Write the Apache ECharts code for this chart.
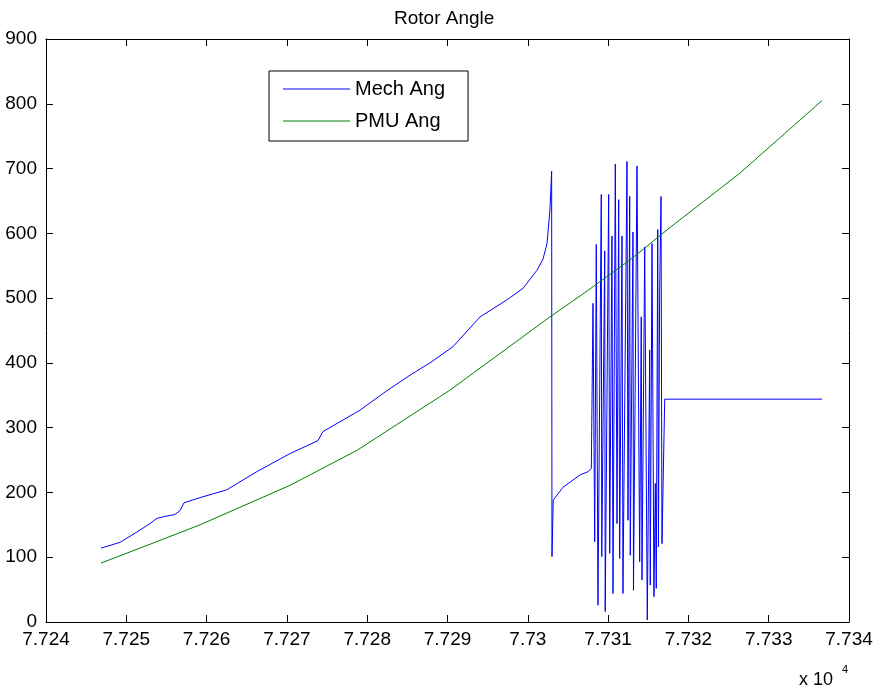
<!DOCTYPE html>
<html>
<head>
<meta charset="utf-8">
<script src="https://cdn.jsdelivr.net/npm/echarts@6/dist/echarts.min.js"></script>
<style>
html,body{margin:0;padding:0;background:#fff;}
#c{width:878px;height:692px;}
</style>
</head>
<body>
<div id="c"></div>
<script>
// x values are in raw units (axis shows them x 10^4)
const mechX = [
77246.85,77249.22,77251.33,77252.95,77253.82,77254.82,77256.06,77256.69,77257.19,77259.18,
77262.50,77266.24,77270.39,77273.87,77274.49,77279.10,77282.22,77285.33,77287.82,77290.68,
77294.05,77297.37,77299.40,77301.14,77301.89,77302.39,77302.76,77302.97,77303.01,77303.17,
77304.38,77306.50,77307.50,77307.91,77308.12,77308.33,77308.53,77308.74,77309.15,77309.21,
77309.58,77309.64,77310.07,77310.20,77310.48,77310.61,77310.90,77311.11,77311.32,77311.44,
77311.73,77311.85,77312.35,77312.48,77312.69,77312.76,77313.10,77313.16,77313.60,77313.93,
77314.13,77314.22,77314.56,77314.88,77315.18,77315.25,77315.47,77315.71,77315.88,77316.00,
77316.18,77316.27,77316.42,77316.59,77316.71,77317.05,77336.64
];
const mechY = [
114,123,139,152,160,163,166,172,184,192,
204,232,260,280,294,327,355,381,400,425,
471,497,515,543,560,584,636,696,101,188,
208,227,232,237,492,124,583,26,660,101,
573,16,660,106,596,44,707,152,652,98,
596,44,711,157,657,103,602,49,704,93,
471,65,579,3,420,57,584,39,214,52,
606,116,512,657,121,344,344
];
const pmuX = [77246.85,77252.95,77259.18,77270.39,77278.73,77290.31,77302.76,77307.50,77312.73,77317.71,77326.42,77336.64];
const pmuY = [91,120,150,211,265,358,471,512,559,609,693,805];

const xTicks = {min:77240, max:77340, interval:10};
const yTicks = {min:0, max:900, interval:100};

const FONT = '"Liberation Sans", Arial, sans-serif';
const chart = echarts.init(document.getElementById('c'), null, {renderer:'canvas'});

const pair = (xs, ys) => xs.map((x,i)=>[x, ys[i]]);

const axisCommon = {
  axisLine:{show:true, onZero:false, lineStyle:{color:'#000', width:1}},
  axisTick:{show:true, inside:true, length:7, lineStyle:{color:'#000', width:1}},
  splitLine:{show:false}
};

chart.setOption({
  animation:false,
  backgroundColor:'#fff',
  title:{
    text:'Rotor Angle', left:389, top:4,
    textStyle:{fontFamily:FONT, fontSize:19, fontWeight:'normal', color:'#000'}
  },
  legend:{
    left:269, top:71, orient:'vertical',
    padding:[8,23,10,14],
    icon:'rect',
    itemWidth:67, itemHeight:1, itemGap:12,
    borderColor:'#000', borderWidth:1, backgroundColor:'#fff',
    textStyle:{fontFamily:FONT, fontSize:20, color:'#000', lineHeight:20},
    data:['Mech Ang','PMU Ang']
  },
  grid:{left:46, right:29, top:39, bottom:70, containLabel:false},
  xAxis:[
    Object.assign({type:'value', position:'bottom', min:xTicks.min, max:xTicks.max, interval:xTicks.interval,
      axisLabel:{margin:8, color:'#000', fontFamily:FONT, fontSize:19,
        formatter:v=>String(+(v/1e4).toFixed(3))}}, axisCommon),
    Object.assign({type:'value', position:'top', min:xTicks.min, max:xTicks.max, interval:xTicks.interval,
      axisLabel:{show:false}}, axisCommon)
  ],
  yAxis:[
    Object.assign({type:'value', position:'left', min:yTicks.min, max:yTicks.max, interval:yTicks.interval,
      axisLabel:{margin:9, color:'#000', fontFamily:FONT, fontSize:19}}, axisCommon),
    Object.assign({type:'value', position:'right', min:yTicks.min, max:yTicks.max, interval:yTicks.interval,
      axisLabel:{show:false}}, axisCommon)
  ],
  graphic:[
    {type:'text', left:799, top:671, style:{text:'x 10', fontFamily:FONT, fontSize:18, fill:'#000'}},
    {type:'text', left:842, top:664, style:{text:'4', fontFamily:FONT, fontSize:11, fill:'#000'}}
  ],
  series:[
    {name:'Mech Ang', type:'line', xAxisIndex:0, yAxisIndex:0, data:pair(mechX, mechY),
      symbol:'none', showSymbol:false, lineStyle:{color:'#0000ff', width:1}, itemStyle:{color:'#0000ff'}},
    {name:'PMU Ang', type:'line', xAxisIndex:0, yAxisIndex:0, data:pair(pmuX, pmuY),
      symbol:'none', showSymbol:false, lineStyle:{color:'#008000', width:1}, itemStyle:{color:'#008000'}}
  ]
});
</script>
</body>
</html>
